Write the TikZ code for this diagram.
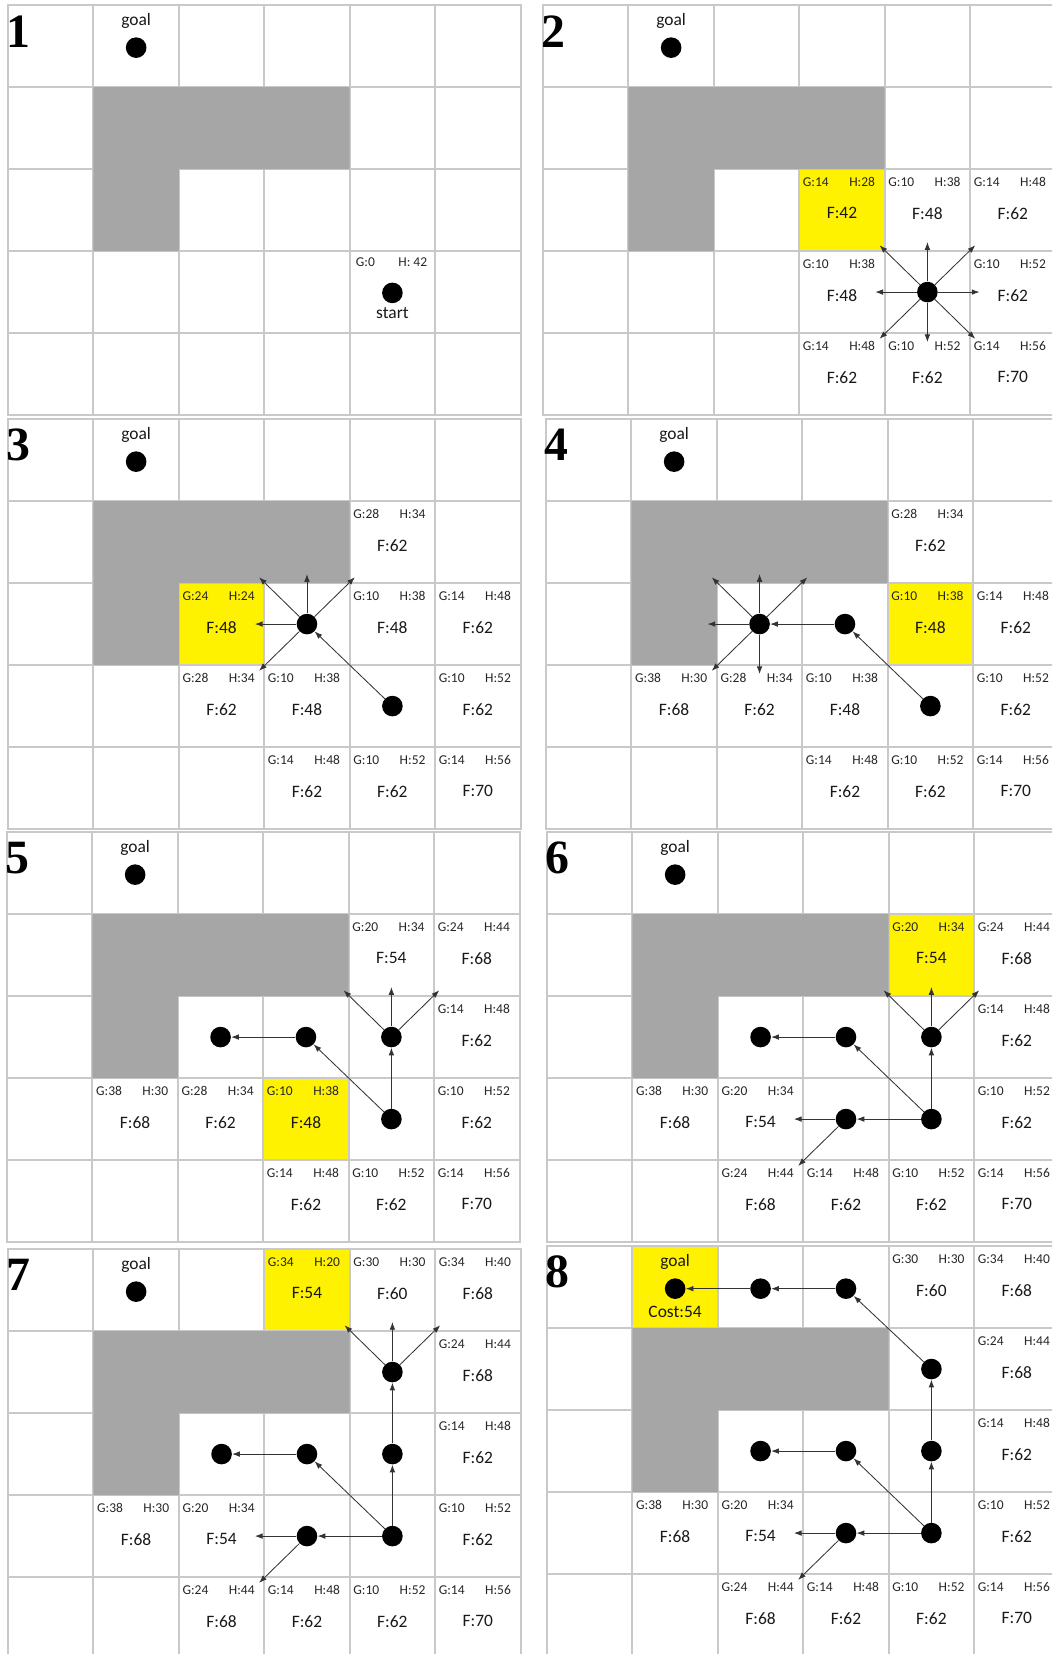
\documentclass[tikz,border=0pt]{standalone}
\usepackage{fontspec}
\setmainfont{Carlito}
\newfontfamily\numfont{Liberation Serif}
\usetikzlibrary{arrows.meta}

% one open-list cell: column, row, G, H, F
\newcommand{\ghf}[5]{%
  \node[small, anchor=west] (G\panelid-#1#2) at (#1+0.04,#2+0.16) {G:#3};
  \node[small, anchor=east] (H\panelid-#1#2) at (#1+0.89,#2+0.16) {H:#4};
  \node[big] (F\panelid-#1#2) at (#1+0.5,#2+0.54) {F:#5};
}
% grid, wall, goal and step number of one panel
\newcommand{\board}[1]{%
  \foreach \i in {0,...,6} \draw[gridline] (\i,0) -- (\i,5);
  \foreach \j in {0,...,5} \draw[gridline] (0,\j) -- (6,\j);
  \fill[wall] (1,1) -- (4,1) -- (4,2) -- (2,2) -- (2,3) -- (1,3) -- cycle;
  \node[numlbl] (num#1) at (0.12,0.32) {#1};
  \node[big] (goal#1) at (1.5,0.2) {goal};
  \node[dot] (g#1) at (1.5,0.52) {};
}
% arrows from a dot to the neighbours it looks at
\newcommand{\fan}[2]{%
  \foreach \d/\dx/\dy in {#2} {
    \path (#1.center) ++(\dx,\dy) coordinate (#1\d);
    \draw[arr] (#1) -- (#1\d);
  }
}

\begin{document}
\begin{tikzpicture}[
        x=0.025cm, y=-0.025cm,
        gridline/.style={draw=black!21, line width=1.4pt, line cap=rect},
        wall/.style={fill=black!35},
        hit/.style={fill=yellow},
        dot/.style={circle, fill=black, inner sep=0pt, minimum size=0.515cm},
        small/.style={font=\fontsize{9.6}{10}\selectfont, text=black!85, inner sep=0pt},
        big/.style={font=\fontsize{12.4}{13}\selectfont, text=black!90, inner sep=0pt},
        numlbl/.style={font=\numfont\bfseries\fontsize{34}{34}\selectfont, inner sep=0pt},
        arr/.style={-{Latex[length=5.5pt,width=4pt]}, line width=0.6pt, black!80},
        panel/.style={shift={#1}, x=2.135cm, y=-2.05cm}
    ]
        \useasboundingbox (0,0) rectangle (1052,1654);
        \clip (0,0) rectangle (1052,1654);

        % Step 1
        \begin{scope}[panel={(8,5)}]
            \def\panelid{1}
            \board{1}
            \node[small, anchor=west] (G1-43) at (4.07,3.14) {G:0};
            \node[small, anchor=east] (H1-43) at (4.91,3.14) {H: 42};
            \node[dot] (d1-43) at (4.5,3.51) {};
            \node[big] (start1) at (4.5,3.76) {start};
        \end{scope}

        % Step 2
        \begin{scope}[panel={(543,5)}]
            \def\panelid{2}
            \fill[hit] (3,2) rectangle (4,3);
            \board{2}
            \ghf{3}{2}{14}{28}{42}
            \ghf{4}{2}{10}{38}{48}
            \ghf{5}{2}{14}{48}{62}
            \ghf{3}{3}{10}{38}{48}
            \ghf{5}{3}{10}{52}{62}
            \ghf{3}{4}{14}{48}{62}
            \ghf{4}{4}{10}{52}{62}
            \ghf{5}{4}{14}{56}{70}
            \node[dot] (d2-43) at (4.5,3.5) {};
            \fan{d2-43}{nw/-0.56/-0.57, n/0/-0.61, ne/0.56/-0.57, w/-0.61/0, e/0.61/0, sw/-0.56/0.57, s/0/0.61, se/0.56/0.57}
        \end{scope}

        % Step 3
        \begin{scope}[panel={(8,419)}]
            \def\panelid{3}
            \fill[hit] (2,2) rectangle (3,3);
            \board{3}
            \ghf{2}{2}{24}{24}{48}
            \ghf{4}{1}{28}{34}{62}
            \ghf{4}{2}{10}{38}{48}
            \ghf{5}{2}{14}{48}{62}
            \ghf{2}{3}{28}{34}{62}
            \ghf{3}{3}{10}{38}{48}
            \ghf{5}{3}{10}{52}{62}
            \ghf{3}{4}{14}{48}{62}
            \ghf{4}{4}{10}{52}{62}
            \ghf{5}{4}{14}{56}{70}
            \node[dot] (d3-43) at (4.5,3.5) {};
            \node[dot] (d3-32) at (3.5,2.5) {};
            \draw[arr] (d3-43) -- (d3-32);
            \fan{d3-32}{nw/-0.56/-0.57, n/0/-0.61, ne/0.56/-0.57, w/-0.61/0, sw/-0.56/0.57}
        \end{scope}

        % Step 4
        \begin{scope}[panel={(546,419)}]
            \def\panelid{4}
            \fill[hit] (4,2) rectangle (5,3);
            \board{4}
            \ghf{4}{2}{10}{38}{48}
            \ghf{4}{1}{28}{34}{62}
            \ghf{5}{2}{14}{48}{62}
            \ghf{1}{3}{38}{30}{68}
            \ghf{2}{3}{28}{34}{62}
            \ghf{3}{3}{10}{38}{48}
            \ghf{5}{3}{10}{52}{62}
            \ghf{3}{4}{14}{48}{62}
            \ghf{4}{4}{10}{52}{62}
            \ghf{5}{4}{14}{56}{70}
            \node[dot] (d4-43) at (4.5,3.5) {};
            \node[dot] (d4-32) at (3.5,2.5) {};
            \node[dot] (d4-22) at (2.5,2.5) {};
            \draw[arr] (d4-43) -- (d4-32);
            \draw[arr] (d4-32) -- (d4-22);
            \fan{d4-22}{nw/-0.56/-0.57, n/0/-0.61, ne/0.56/-0.57, w/-0.61/0, sw/-0.56/0.57, s/0/0.61}
        \end{scope}

        % Step 5
        \begin{scope}[panel={(7,832)}]
            \def\panelid{5}
            \fill[hit] (3,3) rectangle (4,4);
            \board{5}
            \ghf{3}{3}{10}{38}{48}
            \ghf{4}{1}{20}{34}{54}
            \ghf{5}{1}{24}{44}{68}
            \ghf{5}{2}{14}{48}{62}
            \ghf{1}{3}{38}{30}{68}
            \ghf{2}{3}{28}{34}{62}
            \ghf{5}{3}{10}{52}{62}
            \ghf{3}{4}{14}{48}{62}
            \ghf{4}{4}{10}{52}{62}
            \ghf{5}{4}{14}{56}{70}
            \node[dot] (d5-43) at (4.5,3.5) {};
            \node[dot] (d5-32) at (3.5,2.5) {};
            \node[dot] (d5-22) at (2.5,2.5) {};
            \node[dot] (d5-42) at (4.5,2.5) {};
            \draw[arr] (d5-43) -- (d5-32);
            \draw[arr] (d5-32) -- (d5-22);
            \draw[arr] (d5-43) -- (d5-42);
            \fan{d5-42}{nw/-0.56/-0.57, n/0/-0.61, ne/0.56/-0.57}
        \end{scope}

        % Step 6
        \begin{scope}[panel={(547,832)}]
            \def\panelid{6}
            \fill[hit] (4,1) rectangle (5,2);
            \board{6}
            \ghf{4}{1}{20}{34}{54}
            \ghf{5}{1}{24}{44}{68}
            \ghf{5}{2}{14}{48}{62}
            \ghf{1}{3}{38}{30}{68}
            \ghf{2}{3}{20}{34}{54}
            \ghf{5}{3}{10}{52}{62}
            \ghf{2}{4}{24}{44}{68}
            \ghf{3}{4}{14}{48}{62}
            \ghf{4}{4}{10}{52}{62}
            \ghf{5}{4}{14}{56}{70}
            \node[dot] (d6-43) at (4.5,3.5) {};
            \node[dot] (d6-33) at (3.5,3.5) {};
            \node[dot] (d6-32) at (3.5,2.5) {};
            \node[dot] (d6-22) at (2.5,2.5) {};
            \node[dot] (d6-42) at (4.5,2.5) {};
            \draw[arr] (d6-43) -- (d6-32);
            \draw[arr] (d6-32) -- (d6-22);
            \draw[arr] (d6-43) -- (d6-42);
            \draw[arr] (d6-43) -- (d6-33);
            \fan{d6-42}{nw/-0.56/-0.57, n/0/-0.61, ne/0.56/-0.57}
            \fan{d6-33}{w/-0.61/0, sw/-0.56/0.57}
        \end{scope}

        % Step 7
        \begin{scope}[panel={(8,1249)}]
            \def\panelid{7}
            \fill[hit] (3,0) rectangle (4,1);
            \board{7}
            \ghf{3}{0}{34}{20}{54}
            \ghf{4}{0}{30}{30}{60}
            \ghf{5}{0}{34}{40}{68}
            \ghf{5}{1}{24}{44}{68}
            \ghf{5}{2}{14}{48}{62}
            \ghf{1}{3}{38}{30}{68}
            \ghf{2}{3}{20}{34}{54}
            \ghf{5}{3}{10}{52}{62}
            \ghf{2}{4}{24}{44}{68}
            \ghf{3}{4}{14}{48}{62}
            \ghf{4}{4}{10}{52}{62}
            \ghf{5}{4}{14}{56}{70}
            \node[dot] (d7-43) at (4.5,3.5) {};
            \node[dot] (d7-33) at (3.5,3.5) {};
            \node[dot] (d7-32) at (3.5,2.5) {};
            \node[dot] (d7-22) at (2.5,2.5) {};
            \node[dot] (d7-42) at (4.5,2.5) {};
            \node[dot] (d7-41) at (4.5,1.5) {};
            \draw[arr] (d7-43) -- (d7-32);
            \draw[arr] (d7-32) -- (d7-22);
            \draw[arr] (d7-43) -- (d7-42);
            \draw[arr] (d7-42) -- (d7-41);
            \draw[arr] (d7-43) -- (d7-33);
            \fan{d7-33}{w/-0.61/0, sw/-0.56/0.57}
            \fan{d7-41}{nw/-0.56/-0.57, n/0/-0.61, ne/0.56/-0.57}
        \end{scope}

        % Step 8
        \begin{scope}[panel={(547,1246)}]
            \def\panelid{8}
            \fill[hit] (1,0) rectangle (2,1);
            \board{8}
            \node[big] (cost8) at (1.5,0.8) {Cost:54};
            \ghf{4}{0}{30}{30}{60}
            \ghf{5}{0}{34}{40}{68}
            \ghf{5}{1}{24}{44}{68}
            \ghf{5}{2}{14}{48}{62}
            \ghf{1}{3}{38}{30}{68}
            \ghf{2}{3}{20}{34}{54}
            \ghf{5}{3}{10}{52}{62}
            \ghf{2}{4}{24}{44}{68}
            \ghf{3}{4}{14}{48}{62}
            \ghf{4}{4}{10}{52}{62}
            \ghf{5}{4}{14}{56}{70}
            \node[dot] (d8-43) at (4.5,3.5) {};
            \node[dot] (d8-42) at (4.5,2.5) {};
            \node[dot] (d8-41) at (4.5,1.5) {};
            \node[dot] (d8-30) at (3.5,0.52) {};
            \node[dot] (d8-20) at (2.5,0.52) {};
            \node[dot] (d8-33) at (3.5,3.5) {};
            \node[dot] (d8-32) at (3.5,2.5) {};
            \node[dot] (d8-22) at (2.5,2.5) {};
            \draw[arr] (d8-43) -- (d8-42);
            \draw[arr] (d8-42) -- (d8-41);
            \draw[arr] (d8-41) -- (d8-30);
            \draw[arr] (d8-30) -- (d8-20);
            \draw[arr] (d8-20) -- (g8);
            \draw[arr] (d8-43) -- (d8-32);
            \draw[arr] (d8-32) -- (d8-22);
            \draw[arr] (d8-43) -- (d8-33);
            \fan{d8-33}{w/-0.61/0, sw/-0.56/0.57}
        \end{scope}
    \end{tikzpicture}
\end{document}
